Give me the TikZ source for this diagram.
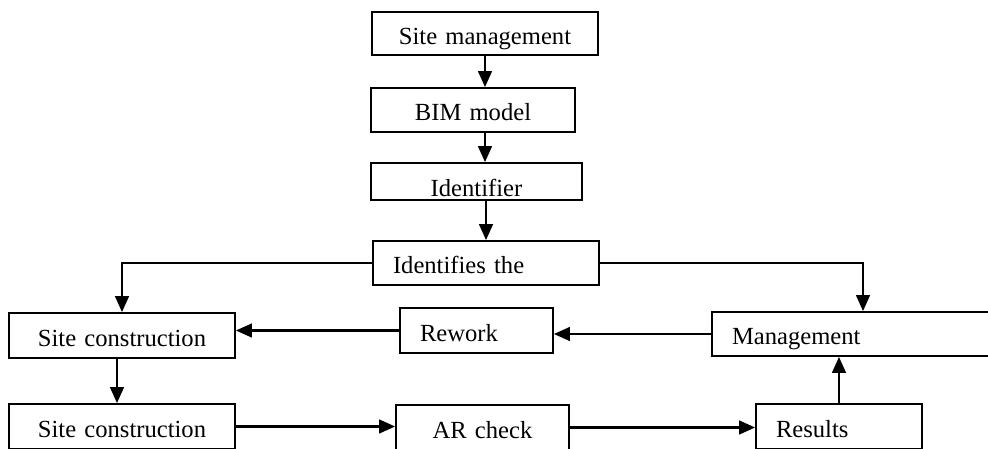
\documentclass[tikz,border=0pt]{standalone}
\usepackage{fontspec}
\setmainfont{Liberation Serif}
\usetikzlibrary{arrows.meta}
\tikzset{>={Triangle[length=4mm,width=3.4mm]}}
\newcommand\pxu{0.025cm}

\begin{document}
\begin{tikzpicture}[x=0.025cm,y=-0.025cm]
      \tikzstyle{stepbox}=[draw,line width=1.2pt,rectangle,inner xsep=0.5cm,inner ysep=0pt,
        font=\fontsize{17.5}{20}\selectfont,text height=16pt,text depth=0.4pt];
      \tikzstyle{flow}=[line width=1.7pt,->];
      \useasboundingbox (0,0) rectangle (988,448);
      \clip (0,0) rectangle (988,448);

      \node[stepbox,text width=186*\pxu,minimum height=43*\pxu,align=center] (site) at (485,33.5) {Site management};
      \node[stepbox,text width=164*\pxu,minimum height=44*\pxu,align=center] (bim) at (473,110) {BIM model};
      \node[stepbox,text width=171*\pxu,minimum height=37*\pxu,align=center,text height=22pt] (ident) at (476.5,181.5) {Identifier};
      \node[stepbox,text width=186*\pxu,minimum height=44*\pxu,align=left] (idthe) at (486,263) {Identifies the};

      \node[stepbox,text width=186*\pxu,minimum height=45*\pxu,align=center] (sc1) at (122,335.5) {Site construction};
      \node[stepbox,text width=113*\pxu,minimum height=45*\pxu,align=left] (rework) at (476.5,330.5) {Rework};
      \node[stepbox,text width=262*\pxu,minimum height=44*\pxu,align=left] (mgmt) at (863,334) {Management};

      \node[stepbox,text width=186*\pxu,minimum height=45*\pxu,align=center] (sc2) at (122,426.5) {Site construction};
      \node[stepbox,text width=133*\pxu,minimum height=45*\pxu,align=center] (ar) at (482.5,427.5) {AR check};
      \node[stepbox,text width=126*\pxu,minimum height=45*\pxu,align=left] (results) at (839,426.5) {Results};

      \draw[flow] (site.south) -- (site.south |- bim.north);
      \draw[flow] (site.south |- bim.south) -- (site.south |- ident.north);
      \draw[flow] (idthe.north |- ident.south) -- (idthe.north);
      \draw[flow] (idthe.west) -| (sc1.north);
      \draw[flow] (idthe.east) -| (mgmt.north);
      \draw[flow] (rework.west) -- (rework.west -| sc1.east);
      \draw[flow] (mgmt.west) -- (mgmt.west -| rework.east);
      \draw[flow] ([xshift=-0.125cm]sc1.south) -- ([xshift=-0.125cm]sc2.north);
      \draw[flow] (sc2.east) -- (sc2.east -| ar.west);
      \draw[flow] (ar.east) -- (ar.east -| results.west);
      \draw[flow] (results.north) -- (results.north |- mgmt.south);
    \end{tikzpicture}
\end{document}
